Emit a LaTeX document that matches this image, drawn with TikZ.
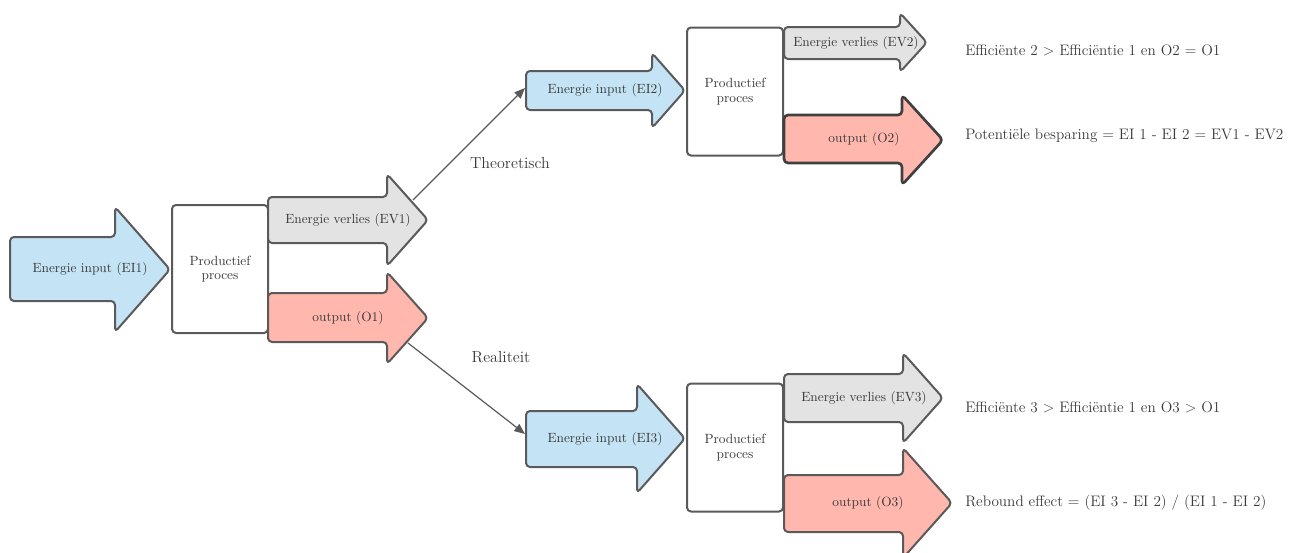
\documentclass[tikz,border=0pt]{standalone}
\usepackage{tikz}
\usetikzlibrary{arrows.meta,positioning}
\definecolor{inputblauw}{HTML}{C4E4F6}
\definecolor{verliesgrijs}{HTML}{E3E3E3}
\definecolor{outputrood}{HTML}{FFB7AE}
\definecolor{lijngrijs}{HTML}{5A5A5A}
\definecolor{tekstgrijs}{HTML}{383838}
% pijl: stijl, links, kop, punt, romp boven, romp onder, kop boven, kop onder
\newcommand{\pijl}[8]{%
  \draw[#1] (#2,#5) -- (#3,#5) -- (#3,#7) -- (#4,{(#7+#8)/2})
    -- (#3,#8) -- (#3,#6) -- (#2,#6) -- cycle;}

\begin{document}
\begin{tikzpicture}[
    x=0.75pt, y=-0.75pt,
    font=\fontsize{10}{11}\selectfont, text=tekstgrijs,
    pijlvorm/.style={draw=lijngrijs, line width=1.5pt, rounded corners=3pt,
      line join=round},
    invoer/.style={pijlvorm, fill=inputblauw},
    verlies/.style={pijlvorm, fill=verliesgrijs},
    uitvoer/.style={pijlvorm, fill=outputrood},
    proces/.style={rectangle, rounded corners=3pt, draw=lijngrijs,
      line width=1.5pt, fill=white, minimum width=72pt, minimum height=96pt,
      align=center, inner sep=2pt},
    pijltekst/.style={inner sep=1pt},
    tak/.style={inner sep=1pt, font=\fontsize{12}{14}\selectfont},
    uitleg/.style={anchor=west, inner sep=0pt, font=\fontsize{11.4}{13}\selectfont},
    verbinding/.style={draw=lijngrijs, line width=0.9pt,
      -{Triangle[length=8pt, width=6.5pt]}}
  ]
    \clip (0,0) rectangle (1297,553);

    \node[proces] (p1) at (220,269) {Productief\\ proces};
    \node[proces] (p2) at (735,91.5) {Productief\\ proces};
    \node[proces] (p3) at (735,447.5) {Productief\\ proces};

    \pijl{invoer}{10}{115}{170}{237}{301}{207}{332}
    \pijl{verlies}{268}{387}{428}{197}{243}{174}{266}
    \pijl{uitvoer}{268}{387}{428}{293}{342}{272}{364}
    \pijl{invoer}{526}{652}{685}{71}{110}{53}{128}
    \pijl{verlies}{784}{900}{927}{27}{59}{13}{72}
    \pijl{uitvoer, draw=black!75, line width=2pt}{784}{902}{943}{115}{163}{95}{185}
    \pijl{invoer}{526}{637}{685}{411}{467}{384}{493}
    \pijl{verlies}{784}{903}{943}{374}{422}{353}{443}
    \pijl{uitvoer}{784}{903}{952}{475}{532}{448}{558}

    \node[pijltekst] (ei1) at (90,269) {Energie input (EI1)};
    \node[pijltekst] (ev1) at (348,220) {Energie verlies (EV1)};
    \node[pijltekst] (o1) at (348,318) {output (O1)};
    \node[pijltekst] (ei2) at (605,90) {Energie input (EI2)};
    \node[pijltekst] (ev2) at (856,43) {Energie verlies (EV2)};
    \node[pijltekst] (o2) at (864,139) {output (O2)};
    \node[pijltekst] (ei3) at (605,439) {Energie input (EI3)};
    \node[pijltekst] (ev3) at (864,398) {Energie verlies (EV3)};
    \node[pijltekst] (o3) at (868,503) {output (O3)};

    \coordinate (ev1uit) at (413,200);
    \coordinate (ei2in) at (525,88);
    \coordinate (o1uit) at (408,343);
    \coordinate (ei3in) at (525,434);
    \draw[verbinding] (ev1uit) -- (ei2in);
    \draw[verbinding] (o1uit) -- (ei3in);

    \node[tak] (theo) at (510,163) {Theoretisch};
    \node[tak] (real) at (501,357) {Realiteit};

    \node[uitleg] (eff2) at (965,50) {Efficiënte 2 > Efficiëntie 1 en O2 = O1};
    \node[uitleg] (besp) at (965,136) {Potentiële besparing = EI 1 - EI 2 = EV1 - EV2};
    \node[uitleg] (eff3) at (965,407) {Efficiënte 3 > Efficiëntie 1 en O3 > O1};
    \node[uitleg] (rebo) at (965,503) {Rebound effect = (EI 3 - EI 2) / (EI 1 - EI 2)};
\end{tikzpicture}
\end{document}
